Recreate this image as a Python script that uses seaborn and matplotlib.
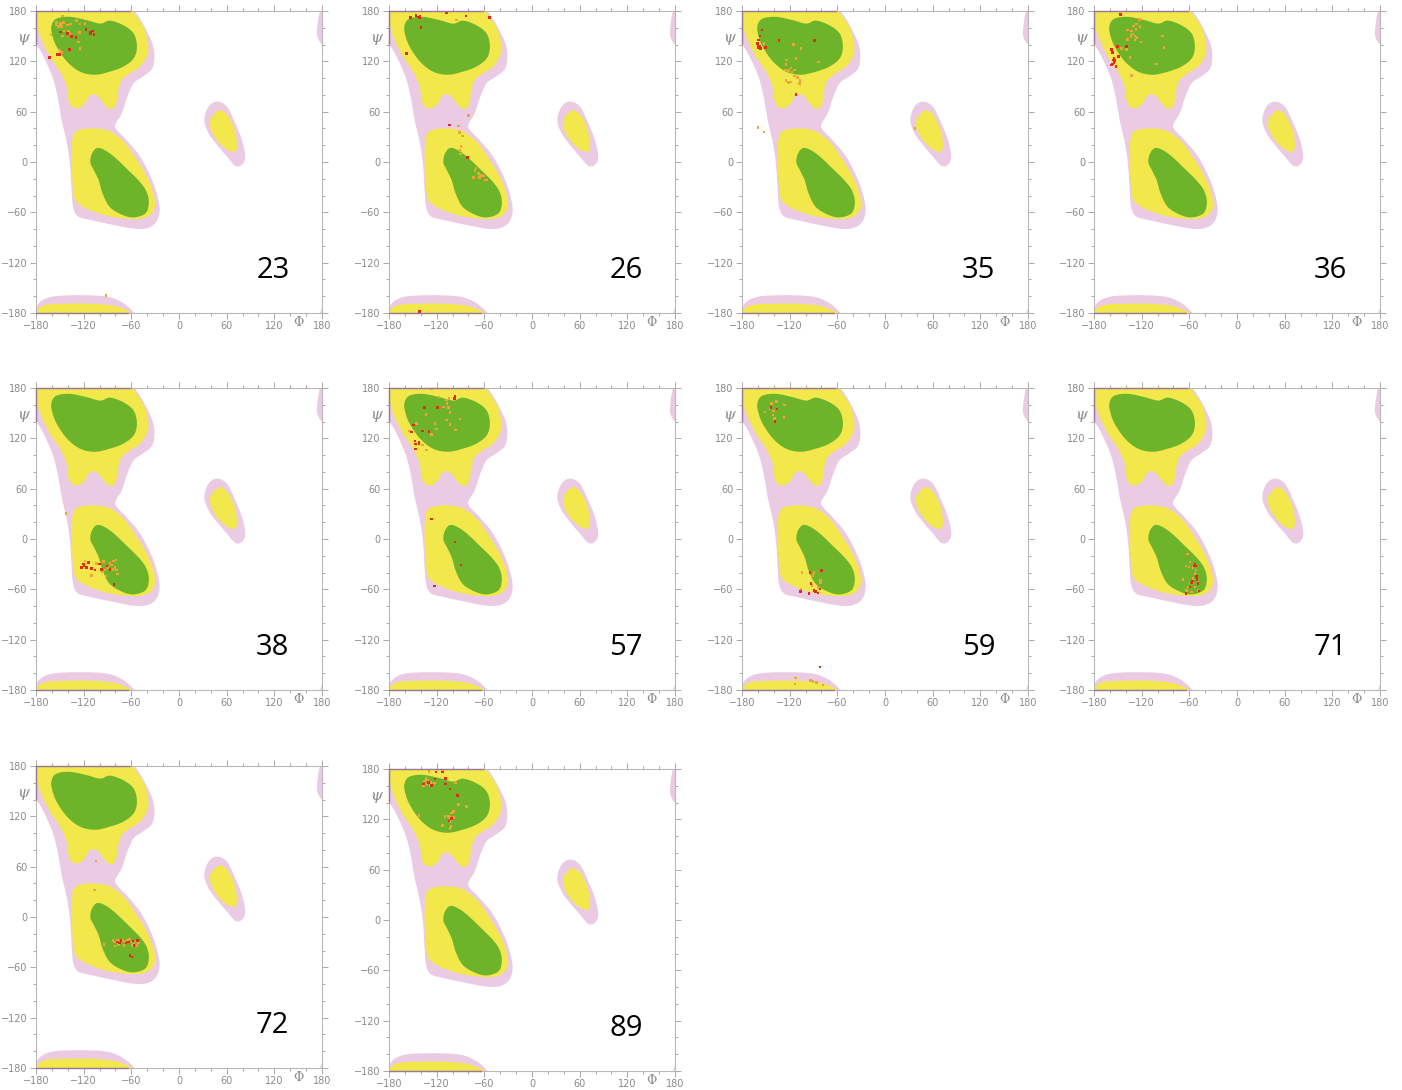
import numpy as np
import pandas as pd
import matplotlib
matplotlib.use("Agg")
import matplotlib.pyplot as plt
import seaborn as sns

sns.set_theme(style="white")
plt.rcParams["font.family"] = ["DejaVu Sans"]

# ---------------- background regions (phi, psi) ----------------
PINK_MAIN = [(-186, 160), (-183, 178), (-176, 192), (-162, 199), (-140, 201), (-110, 201),
             (-88, 199), (-72, 193), (-60, 184), (-50, 172), (-40, 155), (-33, 140), (-31, 125),
             (-34, 111), (-45, 102), (-57, 94), (-65, 78), (-72, 58), (-80, 45), (-78, 38),
             (-66, 26), (-49, 6.5), (-34, -21), (-26, -45), (-24.6, -61), (-30, -73), (-41, -79),
             (-57, -79.5), (-83, -75), (-112, -69), (-127, -65), (-133, -55), (-135, -37),
             (-137, -5), (-141, 22), (-147.7, 50), (-152, 74), (-158, 98), (-166.6, 118),
             (-175, 133.5), (-182, 142), (-186, 150)]
YELLOW_BETA = [(-180, 180), (-176, 186), (-165, 190), (-140, 191), (-110, 191), (-85, 189),
               (-70, 185), (-60, 180), (-53, 173), (-43, 157), (-38.5, 137.5), (-40.6, 125.6),
               (-49, 113.7), (-61.6, 105.8), (-72, 97.8), (-76.3, 86), (-78.4, 72), (-82.6, 64),
               (-88.9, 64), (-95, 70), (-101.5, 78), (-107.8, 80.7), (-114, 78), (-118.3, 70),
               (-126.7, 64), (-135, 66), (-139.3, 74), (-141.4, 89.9), (-149.8, 107.7),
               (-162.4, 125.6), (-172.9, 145.5), (-178.3, 161.3)]
GREEN_BETA = [(-160.3, 163.3), (-154, 171), (-137, 173), (-116, 169), (-99, 165), (-87, 168.5),
              (-70, 163), (-57, 153), (-53, 137.5), (-57, 123.6), (-70, 113.7), (-87, 107.7),
              (-106, 104), (-124.6, 107.7), (-141, 119.7), (-154, 137.5), (-160, 153)]
YELLOW_ALPHA = [(-133, 32), (-126, 38), (-112, 40), (-96, 39), (-84, 35),
                (-67.9, 22.4), (-53.2, 2.5), (-40.6, -17.3), (-32.2, -37.2), (-30, -51),
                (-34.3, -61), (-44.8, -67), (-61.6, -68), (-86.8, -65), (-107.8, -59),
                (-124.6, -51), (-132, -41), (-134.6, -13), (-135, 14.4)]
GREEN_ALPHA = [(-110, 9), (-104, 16.4), (-95.2, 15), (-82.6, 7), (-65.8, -8),
               (-49, -24), (-40.6, -36), (-38.0, -49), (-42.0, -61), (-56, -66),
               (-70, -63.5), (-86.8, -54), (-96, -38), (-101, -22), (-107, -10),
               (-111.5, -1)]
PINK_LEFT = [(37.2, 66), (47.7, 72), (60.3, 66), (70.8, 46.2), (79.2, 26.4), (83.4, 6.5),
             (79.2, -3.4), (70.8, -4.6), (60.3, 6.5), (47.7, 20.4), (37.2, 34.3), (31.8, 50)]
YELLOW_LEFT = [(49.7, 61.3), (40.1, 52.2), (39.2, 42.2), (43.4, 32.3), (51.8, 21.6),
               (62.3, 13.7), (70.7, 12.5), (72.8, 18.4), (72, 30.3), (68.6, 42.2),
               (62.3, 54.2), (56, 60.1)]

# ---------------- residue data (phi, psi) ----------------
p23_orange = [(-146.4, 174.0), (-154, 166.1), (-154.8, 163.3), (-149, 165.3), (-145.6, 166.1),
              (-140.6, 163.3), (-136.4, 164.5), (-128.8, 168.5), (-124.6, 164.5), (-118.3, 165.3),
              (-151.9, 161.3), (-147.7, 161.3), (-144.8, 156.5), (-139.3, 156.5), (-125.5, 154.2),
              (-161.1, 151.4), (-146.4, 150.2), (-137.2, 153.4), (-126.7, 143.4), (-124.6, 135.5),
              (-149.8, 132.7), (-147.7, 130.3), (-91.8, -159)]
p23_red = [(-149, 155), (-140.6, 153.4), (-135.1, 149.4), (-129.6, 148.6), (-117.1, 158.1),
           (-112, 155), (-108.7, 156.5), (-107, 151.8), (-111.2, 153.4), (-138, 134.3),
           (-153.1, 128), (-150.6, 128), (-163.2, 124.8)]

p26_orange = [(-94.8, 169.3), (-80.1, 55.2), (-92.7, 42.9), (-91.5, 35), (-87.3, 31), (-89, 18.3),
              (-90.6, 13.5), (-89.8, 9.5), (-70.5, -7.5), (-71.7, -10.3), (-67.5, -13.5),
              (-65.4, -17.5), (-63.4, -16.3), (-66.3, -18.3), (-73.8, -18.3), (-59.2, -21.4),
              (-57.1, -21.4), (-61.3, -16.7)]
p26_red = [(-152.7, 172.4), (-146, 174.4), (-143.1, 173.2), (-141.8, 172.4), (-141, 174),
           (-107.4, 178), (-83.1, 174), (-53.7, 172.4), (-139.7, 160.1), (-157.8, 129.5),
           (-104.1, 44.1), (-81.4, 5.2), (-141.8, -178)]

p35_orange = [(-152.3, 141.5), (-115.4, 139.9), (-105.7, 135.1), (-112, 123.6), (-123.8, 121.6),
              (-124.6, 116.4), (-83.5, 119.2), (-125.5, 109.7), (-121.3, 108.9), (-118.3, 111.7),
              (-114.1, 109.7), (-117.1, 106.5), (-114.1, 102.5), (-110, 100.9), (-124.6, 97),
              (-121.3, 94.6), (-118.3, 95.4), (-107, 97), (-107.8, 93.8), (-159.9, 41.3),
              (-152.3, 35.8), (37.8, 39.7)]
p35_red = [(-154.8, 157.3), (-157.3, 150.2), (-159, 145.4), (-160.3, 141.5), (-159.9, 139.5),
           (-158.2, 138.3), (-159, 136.7), (-156.5, 135.1), (-150.6, 136.7), (-133.8, 144.6),
           (-88.5, 144.6), (-112, 80.7)]

p36_orange = [(-122.9, 170), (-130.5, 162.1), (-126.3, 164.5), (-122.1, 161.3), (-138, 157.3),
              (-132.6, 156.5), (-127.1, 158.1), (-131.3, 152.6), (-128.4, 150.2), (-126.3, 148.6),
              (-133.8, 149.4), (-138, 146.2), (-128.4, 145.4), (-121.2, 143.4), (-93.6, 150.2),
              (-145.2, 135.5), (-138.9, 134.3), (-91.9, 136.3), (-134.7, 124.8), (-101.1, 116.8),
              (-132.6, 103.3)]
p36_red = [(-146.4, 175.6), (-150.6, 137.5), (-138.9, 137.5), (-157.8, 134.3), (-156.5, 130.3),
           (-154.8, 123.6), (-155.7, 121.6), (-153.6, 120.8), (-154.8, 118.4), (-156.5, 116.8),
           (-152.3, 113.6), (-149.4, 125.6), (-157.8, 115.6)]

p38_orange = [(-142.2, 30.6), (-118.3, -26.2), (-103.6, -29), (-95.2, -27), (-86.9, -29),
              (-82.7, -26.2), (-79.3, -25), (-84.8, -31), (-80.6, -33.8), (-90.2, -33.8),
              (-93.2, -37), (-78.5, -37), (-83.5, -36.2), (-77.6, -41.7), (-96.1, -39),
              (-109.9, -43.7), (-91.9, -44.1)]
p38_red = [(-114.1, -28.2), (-120.4, -29.8), (-119.6, -32.2), (-122.5, -33.8), (-109.9, -35),
           (-100.3, -29.8), (-91, -32.2), (-86.9, -36.2), (-97.3, -36.2), (-81.8, -54),
           (-105.7, -37), (-116.2, -33.8)]

p57_orange = [(-126.3, 178.8), (-117, 169.3), (-107.4, 165.7), (-104.5, 167.7), (-107, 161.7),
              (-105.3, 156.6), (-111.6, 157.4), (-103.2, 151), (-133.8, 148.6), (-107.4, 141.9),
              (-90.6, 143.1), (-122.1, 137.9), (-103.2, 136.7), (-120, 131.2), (-96.1, 130),
              (-145.2, 137.9), (-154.8, 128.8), (-152.3, 128), (-126.3, 124.8), (-138, 112.1),
              (-132.6, 106.1)]
p57_red = [(-96.9, 169.7), (-97.8, 167.7), (-135.5, 156.6), (-119.2, 156.6), (-149.4, 135.9),
           (-138, 128.8), (-129.6, 128), (-151.5, 127.2), (-147.3, 116.9), (-146.4, 112.9),
           (-142.2, 115.3), (-142.2, 112.9), (-146.4, 107.3), (-126.3, 23.9), (-96.9, -3.9),
           (-89.4, -30.9), (-122.9, -56)]

p59_orange = [(-143, 161.7), (-136.7, 163.7), (-151.4, 151.7), (-145.1, 154.9), (-140.1, 152.9),
              (-140.9, 147.7), (-139.3, 143.7), (-126.7, 159.7), (-127.5, 144.9), (-104.4, -39.7),
              (-89.7, -39.7), (-90.5, -43.7), (-81.3, -49.6), (-91.8, -55.6), (-84.2, -57.6),
              (-81.3, -52.4), (-105.6, -59.6), (-112.8, -166), (-93.9, -168.8), (-90.5, -170),
              (-86.3, -171.2), (-77.9, -174), (-113.6, -172.8)]
p59_red = [(-143.5, 156.9), (-135.9, 154.9), (-138.8, 140.1), (-94.7, -39.7), (-80, -37.7),
           (-93, -53.2), (-89.7, -61.2), (-87.6, -62.4), (-84.2, -64.4), (-82.1, -59.6),
           (-96, -65.2), (-106.5, -62.8), (-82.1, -152.9)]

p71_orange = [(-62.4, -18.2), (-59.4, -27.3), (-64.5, -32.5), (-60.3, -33.3), (-55.3, -34.1),
              (-51.9, -37.3), (-53.2, -41.3), (-51.1, -45.3), (-56.1, -51.2), (-59.4, -52.4),
              (-67.8, -48.4), (-49, -51.2), (-53.2, -57.2), (-49, -61.2), (-63.6, -61.2),
              (-57.4, -63.2), (-61.5, -57.2), (-55.3, -47.3)]
p71_red = [(-53.2, -30.5), (-54.4, -32.1), (-51.9, -32.5), (-57.4, -52.4), (-50.2, -48.4),
           (-49, -53.2), (-47.7, -62), (-59.4, -57.2), (-64.5, -65.2), (-51.1, -44.5),
           (-56.1, -50)]

p72_orange = [(-104.4, 66.5), (-106.5, 31.9), (-83.4, -27.9), (-80.4, -29.9), (-77.5, -27.1),
              (-74.1, -31.1), (-70.8, -27.9), (-67.8, -29.9), (-64.9, -27.1), (-60.7, -29.9),
              (-57.3, -31.9), (-54, -29.9), (-51, -31.1), (-76.2, -32.7), (-69.1, -33.9),
              (-59.4, -33.9), (-53.1, -33.9), (-94.3, -32.7), (-80.4, -34.3), (-62.4, -25.9)]
p72_red = [(-78.3, -29.9), (-73.3, -27.9), (-66.6, -31.1), (-63.6, -29.9), (-58.2, -28.7),
           (-52.3, -27.9), (-56.5, -33.9), (-59.4, -47.8), (-61.5, -45.8), (-75, -31.1)]

p89_orange = [(-129.6, 176.9), (-112.9, 176.9), (-133.8, 168.9), (-135.5, 165.7), (-131.3, 166.9),
              (-132.6, 161.8), (-127.1, 164.1), (-122.9, 163), (-136.8, 160.2), (-128.4, 160.2),
              (-96.1, 163), (-92.7, 137.9), (-82.2, 135.1), (-142.2, 124.4), (-99, 129.2),
              (-101.1, 127.2), (-109.5, 123.2), (-103.2, 122), (-99, 122), (-101.9, 119.2),
              (-103.2, 116.5), (-112.9, 112.5), (-101.9, 111.3), (-103.2, 109.3), (-105.3, 123.2)]
p89_red = [(-121.2, 176.1), (-112.9, 176.1), (-122.1, 168.1), (-108.7, 168.9), (-108.7, 161.8),
           (-103.2, 156.2), (-93.6, 148.2), (-101.1, 121.2), (-104.5, 118.1), (-130.5, 164.1),
           (-136.8, 161.8), (-126.3, 160.2)]

panel_labels = ["23", "26", "35", "36", "38", "57", "59", "71", "72", "89"]
panel_orange = [p23_orange, p26_orange, p35_orange, p36_orange, p38_orange,
                p57_orange, p59_orange, p71_orange, p72_orange, p89_orange]
panel_red = [p23_red, p26_red, p35_red, p36_red, p38_red,
             p57_red, p59_red, p71_red, p72_red, p89_red]

major_ticks = [-180, -120, -60, 0, 60, 120, 180]

# ---------------- styling ----------------
PINK = "#ebcbe3"
YELLOW = "#f2e84b"
GREEN = "#6db42b"
ORANGE = "#f2a33a"
RED = "#e3281e"
EDGE = "#9a789a"

W, H = 1402, 1090
col_left = [36, 389, 742, 1094]
row_top = [11, 388, 766]
AX_W, AX_H = 286, 302


def smooth_closed(pts, n=14):
    P = np.asarray(pts, float)
    m = len(P)
    t = np.linspace(0, 1, n, endpoint=False)[:, None]
    segs = []
    for i in range(m):
        p0, p1, p2, p3 = P[i - 1], P[i], P[(i + 1) % m], P[(i + 2) % m]
        seg = 0.5 * ((2 * p1) + (-p0 + p2) * t + (2 * p0 - 5 * p1 + 4 * p2 - p3) * t ** 2
                     + (-p0 + 3 * p1 - 3 * p2 + p3) * t ** 3)
        segs.append(seg)
    return np.vstack(segs)


regions = [(PINK_MAIN, PINK), (PINK_LEFT, PINK), (YELLOW_BETA, YELLOW), (YELLOW_ALPHA, YELLOW),
           (YELLOW_LEFT, YELLOW), (GREEN_BETA, GREEN), (GREEN_ALPHA, GREEN)]
shifts = [(0, 0), (0, -360), (360, 0), (360, -360)]

fig = plt.figure(figsize=(W / 100, H / 100), dpi=100)

for k, lab in enumerate(panel_labels):
    r, c = divmod(k, 4)
    top = row_top[r] + (3 if lab == "89" else 0)
    ax = fig.add_axes([col_left[c] / W, 1 - (top + AX_H) / H, AX_W / W, AX_H / H])
    ax.set_facecolor("white")

    for z, (poly, col) in enumerate(regions):
        sm = smooth_closed(poly)
        for dx, dy in shifts:
            ax.fill(sm[:, 0] + dx, sm[:, 1] + dy, color=col, lw=0, zorder=1 + z * 0.01)

    df = pd.DataFrame(
        [(p, s, "o") for p, s in panel_orange[k]] + [(p, s, "r") for p, s in panel_red[k]],
        columns=["phi", "psi", "kind"])
    sns.scatterplot(data=df, x="phi", y="psi", hue="kind", palette={"o": ORANGE, "r": RED},
                    marker="s", s=3, linewidth=0, legend=False, ax=ax, zorder=5)

    ax.set_xlim(-180, 180)
    ax.set_ylim(-180, 180)
    ax.set_xticks(major_ticks)
    ax.set_yticks(major_ticks)
    ax.set_xticks(np.arange(-180, 181, 20), minor=True)
    ax.set_yticks(np.arange(-180, 181, 20), minor=True)
    ax.set_xlabel("")
    ax.set_ylabel("")
    ax.tick_params(which="both", direction="out", top=True, right=True, bottom=True, left=True,
                   color="#a8a8a8", width=0.7, labelcolor="#8a8a8a", labelsize=7, pad=2)
    ax.tick_params(which="major", length=4)
    ax.tick_params(which="minor", length=2.5)
    for sp in ax.spines.values():
        sp.set_color("#b8b8b8")
        sp.set_linewidth(0.8)

    # darker border where the allowed region meets the frame
    ax.axhline(180, xmin=0, xmax=(-62 + 180) / 360, color=EDGE, lw=1.0, zorder=6, clip_on=False)
    ax.axhline(-180, xmin=0, xmax=(-64 + 180) / 360, color=EDGE, lw=1.0, zorder=6, clip_on=False)
    ax.axvline(-180, ymin=(141 + 180) / 360, ymax=1, color=EDGE, lw=1.0, zorder=6, clip_on=False)

    ax.text(-0.047, 0.91, "ψ", transform=ax.transAxes, ha="center", va="center",
            fontsize=11, color="#8a8a8a", family="DejaVu Serif", style="italic")
    ax.text(0.916, -0.03, "Φ", transform=ax.transAxes, ha="center", va="center",
            fontsize=9, color="#8a8a8a", family="DejaVu Serif")
    ax.text(0.828, 0.142, lab, transform=ax.transAxes, ha="center", va="center",
            fontsize=21, color="black", family="Open Sans", zorder=7)

fig.savefig("out.png", dpi=100, facecolor="white")
